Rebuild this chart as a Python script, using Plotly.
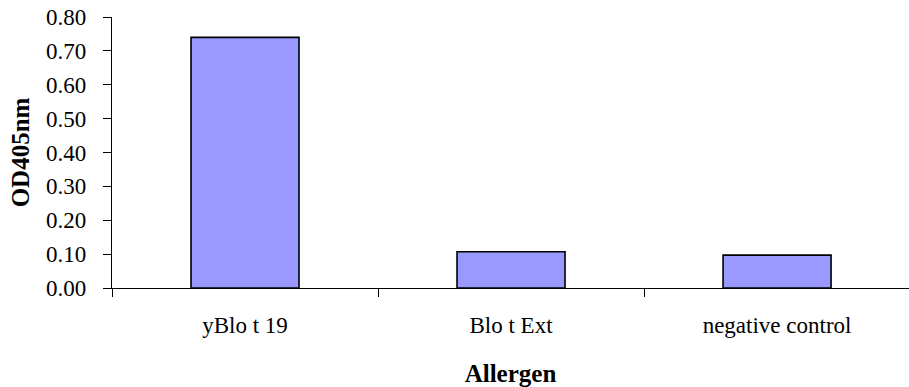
import plotly.graph_objects as go

# Allergen ELISA readings (optical density at 405 nm)
allergens = ["yBlo t 19", "Blo t Ext", "negative control"]
od405 = [0.74, 0.107, 0.097]
y_ticks = [0.0, 0.1, 0.2, 0.3, 0.4, 0.5, 0.6, 0.7, 0.8]
y_tick_labels = ["0.00", "0.10", "0.20", "0.30", "0.40", "0.50", "0.60", "0.70", "0.80"]

FONT = "Liberation Serif, Times New Roman, serif"

fig = go.Figure(
    go.Bar(
        x=allergens,
        y=od405,
        marker=dict(color="#9999FF", line=dict(color="black", width=1.6)),
    )
)

fig.update_layout(
    width=909,
    height=387,
    margin=dict(l=112, r=0, t=17, b=99),
    paper_bgcolor="white",
    plot_bgcolor="white",
    bargap=0.594,
    showlegend=False,
    font=dict(family=FONT, color="black", size=23),
)

fig.update_xaxes(
    range=[-0.5, 2.496],
    showline=True,
    linecolor="black",
    linewidth=1.3,
    ticks="outside",
    tickson="boundaries",
    ticklen=8,
    tickcolor="black",
    tickwidth=1.3,
    ticklabelstandoff=16,
    tickfont=dict(family=FONT, size=23, color="black"),
    title=dict(text="<b>Allergen</b>", font=dict(family=FONT, size=25), standoff=28),
)

fig.update_yaxes(
    range=[0, 0.8],
    tickvals=y_ticks,
    ticktext=y_tick_labels,
    showline=True,
    linecolor="black",
    linewidth=1.3,
    ticks="outside",
    ticklen=8,
    tickcolor="black",
    tickwidth=1.3,
    showgrid=False,
    zeroline=False,
    ticklabelstandoff=12,
    tickfont=dict(family=FONT, size=23, color="black"),
    title=dict(text="<b>OD405nm</b>", font=dict(family=FONT, size=25), standoff=9),
)

fig.write_html("out.html")
